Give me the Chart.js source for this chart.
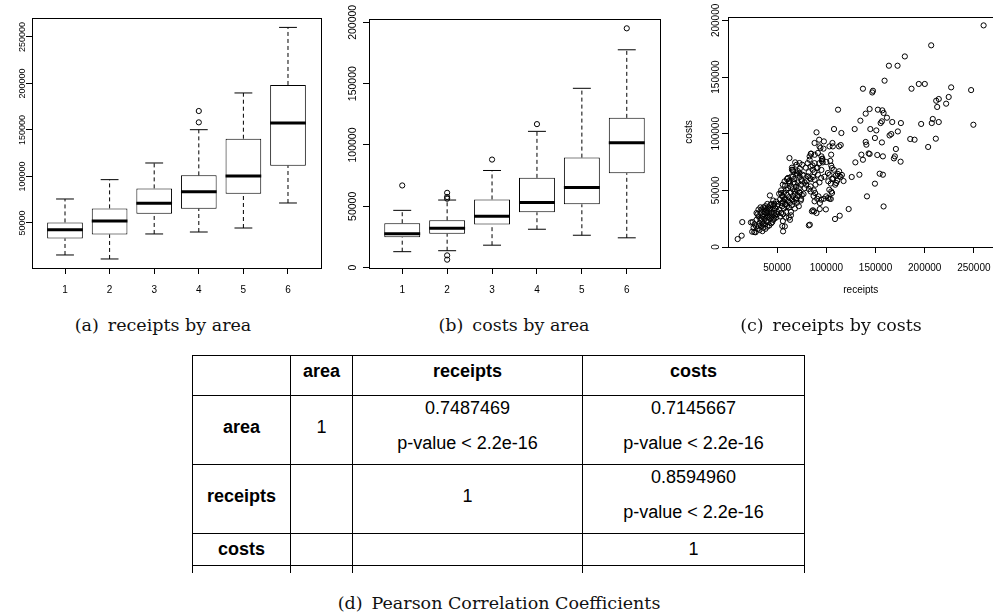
<!DOCTYPE html>
<html>
<head>
<meta charset="utf-8">
<script src="https://cdn.jsdelivr.net/npm/chart.js@4.4.1/dist/chart.umd.min.js"></script>
<style>
  html, body { margin: 0; padding: 0; background: #fff; overflow: hidden; }
  body { width: 993px; height: 615px; position: relative; }
  canvas { position: absolute; top: 0; }
  #boxReceipts { left: 0; }
  #boxCosts { left: 330px; }
  #scatter { left: 660px; }
  .cap {
    position: absolute; top: 315px; line-height: 20px;
    font-family: 'DejaVu Serif', serif; font-size: 17.5px; color: #111;
    white-space: nowrap; transform: translateX(-50%);
  }
  .cap .lbl { margin-right: 9px; }
  #corr {
    position: absolute; left: 192px; top: 355px;
    border-collapse: collapse; table-layout: fixed;
    font-family: 'Liberation Sans', Arial, sans-serif; font-size: 18px; color: #000;
  }
  #corr th, #corr td { border: 1px solid #000; padding: 0; text-align: center; vertical-align: top; }
  #corr .c { line-height: 24px; }
  #corr tr.hdr { height: 40px; }
  #corr tr.hdr .c { padding-top: 3px; }
  #corr tr.two { height: 69px; }
  #corr tr.two .single { padding-top: 19px; }
  #corr tr.two .l2 { margin-top: 11px; }
  #corr tr.one { height: 32px; }
  #corr tr.one .c { padding-top: 3px; }
  #corr tr.stub { height: 7px; }
  #corr tr.stub td { border-bottom: none; }
</style>
</head>
<body>
<canvas id="boxReceipts" width="330" height="300"></canvas>
<canvas id="boxCosts" width="340" height="300"></canvas>
<canvas id="scatter" width="340" height="300"></canvas>

<div class="cap" style="left:163px"><span class="lbl">(a)</span>receipts by area</div>
<div class="cap" style="left:514px"><span class="lbl">(b)</span>costs by area</div>
<div class="cap" style="left:831px"><span class="lbl">(c)</span>receipts by costs</div>

<table id="corr">
  <colgroup><col style="width:98px"><col style="width:62px"><col style="width:230px"><col style="width:222px"></colgroup>
  <tbody></tbody>
</table>
<div class="cap" style="left:499px; top:593px"><span class="lbl">(d)</span>Pearson Correlation Coefficients</div>

<script>
Chart.defaults.font.family = "'Liberation Sans', Arial, sans-serif";
Chart.defaults.color = '#000';

const AREAS = [1, 2, 3, 4, 5, 6];

// (a) receipts by area
const RECEIPTS_LOW  = [15600, 11300, 38200, 40300, 44600, 71500];
const RECEIPTS_Q1   = [33400, 37700, 60000, 65400, 81500, 111600];
const RECEIPTS_MED  = [42800, 52200, 71100, 83700, 100500, 157500];
const RECEIPTS_Q3   = [50600, 65700, 87200, 101200, 140600, 198400];
const RECEIPTS_HIGH = [75800, 96600, 114500, 150300, 189800, 260300];
const RECEIPTS_OUT_AREA  = [4, 4];
const RECEIPTS_OUT_VALUE = [158200, 170400];
const RECEIPTS_TICKS = [50000, 100000, 150000, 200000, 250000];

// (b) costs by area
const COSTS_LOW  = [13000, 13800, 18300, 31300, 26400, 24300];
const COSTS_Q1   = [24800, 27600, 35100, 45100, 51600, 77000];
const COSTS_MED  = [27600, 32100, 41900, 53200, 65400, 101900];
const COSTS_Q3   = [36200, 38600, 55600, 73200, 89700, 122100];
const COSTS_HIGH = [46700, 55100, 79200, 111100, 146200, 177600];
const COSTS_OUT_AREA  = [1, 2, 2, 2, 2, 2, 3, 4, 6];
const COSTS_OUT_VALUE = [67000, 61000, 57600, 56200, 10000, 6500, 88100, 117000, 195100];
const COSTS_TICKS = [0, 50000, 100000, 150000, 200000];

// (c) receipts vs costs, [receipts, costs]
const SCATTER_POINTS = [
  [259900,195600],[206600,178000],[179800,168200],[163600,160000],[172400,160000],[159200,146800],
  [137200,139700],[147400,137900],[146700,136400],[186600,139700],[194000,143900],[200100,143900],
  [226900,140900],[247200,138500],[224400,132400],[221800,126500],[214300,130600],[211700,129100],
  [212700,123600],[207200,109400],[208200,113000],[214300,110300],[196400,108600],[249500,107900],
  [211300,95600],[203500,88300],[185300,95300],[189700,94700],[111900,121200],[140000,117700],
  [144000,121800],[152400,121200],[156900,120600],[158200,118300],[161600,114100],[155200,109400],
  [156500,110900],[167000,110300],[175800,109400],[134600,111500],[128800,104100],[107800,104100],
  [115300,100600],[144700,104100],[150800,102900],[149400,96200],[156500,92300],[140000,92700],
  [140700,90300],[112900,88800],[114600,90000],[106200,91800],[135600,81500],[137200,77000],
  [143000,82600],[144000,82100],[151800,81200],[157500,80000],[170700,86500],[169700,80000],
  [168700,78200],[175500,75300],[129500,74700],[125800,61800],[133600,63800],[154200,64700],
  [157500,63800],[149400,55900],[141300,44700],[158200,35800],[122700,33500],[113600,27600],
  [108800,24700],[164300,98500],[166000,99700],[172700,102000],
  [90000,101200],[88000,91800],[92700,94700],[97500,93200],[93000,88800],[94000,87400],
  [91400,83000],[97100,86800],[104900,81500],[103200,88800],[106600,88800],[84600,82400],
  [83000,77000],[95000,80000],[95700,77500],[96300,74700],[95500,76000],[88000,74000],
  [84000,71000],[86300,68200],[90000,69700],[105000,71800],[105600,69700],[107600,68200],
  [101600,65300],[103200,63800],[111700,64500],[113400,62600],[114500,61800],[115800,63600],
  [109000,55000],[110000,56500],[105000,49000],[103000,50600],[99800,44700],[103200,42600],
  [97500,42600],[99500,33200],[94700,41800],[93400,38800],[88000,40300],[85300,31500],
  [86300,32400],[82200,19100],[90700,42600],[92000,44700],[87300,50000],[88600,47600],
  [82200,51200],[83900,53500],[77800,57000],[79500,55000],[81200,62400],[82900,60900],
  [86300,61800],[88000,59400],[91400,63800],[94700,60900],[93000,57000],[72700,65300],
  [75800,63800],[74600,59400],[67600,49000],[69300,41800],[72700,48200],[74400,42400],
  [76800,46800],[64200,53200],[61500,57900],[59200,50600],[68300,74700],[72700,74100],
  [62500,78500],[65000,68200],[66400,66800],[57500,57900],[55700,55000],[54000,47600],
  [55700,44700],[57500,41800],[54700,38800],[59100,37400],[42600,45500],[84200,82300],
  [88200,81400],[83200,19700],[87500,31400],[90000,30000],[101700,43200],[104500,42400],
  [105800,47700],[93300,33500],[66000,68000],[69700,72600],[75400,72600],[61000,61000],
  [64600,62300],[70700,63800],[57800,18200],[56000,13800],[55200,18500],[55800,22900],
  [9800,7000],[13900,10000],[14500,22000],[23300,21700],[26700,13200],[24600,13500],
  [28600,18200],[107000,60500],[109500,63000],[111000,58500],[104500,56000],[117500,58200],
  [113000,66800],
  [28000,13000],[30000,16000],[31000,18500],[32000,21000],[33000,24000],[34000,19000],
  [35000,27000],[35000,22000],[36000,29000],[36000,17000],[37000,25000],[37000,31000],
  [38000,20000],[38000,28000],[39000,23000],[39000,33000],[40000,26000],[40000,30000],
  [40000,18000],[41000,35000],[41000,22000],[42000,28000],[42000,32000],[43000,25000],
  [43000,37000],[44000,30000],[44000,21000],[45000,33000],[45000,27000],[46000,36000],
  [46000,24000],[47000,30000],[47000,38000],[48000,28000],[48000,34000],[49000,26000],
  [49000,40000],[50000,31000],[50000,36000],[31000,27000],[33000,30000],[34000,33000],
  [29000,24000],[27000,20000],[30000,29000],[36000,35000],[38000,36000],[32000,15000],
  [26000,17000],[35000,14000],[38000,16000],[42000,19000],[44000,38000],[46000,41000],
  [50000,29000],[29000,30000],[33000,35000],[37000,34000],[40000,38000],[25000,22000],
  [39000,30000],[43000,34000],[41000,27000],[34000,25000],[36000,20000],[45000,22000],
  [47000,25000],[31000,33000],
  [51000,38000],[52000,33000],[53000,42000],[54000,30000],[55000,36000],[55000,45000],
  [56000,40000],[57000,34000],[57000,48000],[58000,38000],[58000,43000],[59000,31000],
  [60000,46000],[60000,36000],[61000,41000],[61000,52000],[62000,35000],[62000,44000],
  [63000,39000],[63000,56000],[64000,48000],[64000,28000],[65000,42000],[65000,37000],
  [66000,51000],[66000,45000],[67000,40000],[67000,60000],[68000,47000],[68000,34000],
  [69000,53000],[69000,43000],[70000,39000],[70000,50000],[71000,57000],[71000,45000],
  [72000,36000],[72000,52000],[73000,48000],[73000,62000],[74000,41000],[74000,55000],
  [75000,46000],[75000,58000],[62000,26000],[63000,24000],[64000,31000],[59000,26000],
  [56000,29000],[53000,27000],[58000,54000],[54000,50000],[60000,60000],[66000,62000],
  [70000,65000],[62000,58000],[52000,47000],[68000,56000],[65000,70000],[71000,67000],
  [73000,69000],[67000,57000],
  [78000,52000],[80000,58000],[82000,66000],[84000,60000],[86000,72000],[88000,66000],
  [89000,55000],[91000,70000],[93000,74000],[95000,68000],[96000,78000],[98000,62000],
  [100000,75000],[102000,58000],[104000,76000],[106000,60000],[84000,49000],[87000,45000],
  [77000,63000],[79000,70000],[81000,74000],[83000,80000],
];
const SCATTER_X_TICKS = [50000, 100000, 150000, 200000, 250000];
const SCATTER_Y_TICKS = [0, 50000, 100000, 150000, 200000];

// (d) correlation table
const CORR_VARS = ['area', 'receipts', 'costs'];
const CORR_VALUES = [
  ['1', '0.7487469', '0.7145667'],
  ['', '1', '0.8594960'],
  ['', '', '1'],
];
const CORR_PVALUES = [
  ['', 'p-value < 2.2e-16', 'p-value < 2.2e-16'],
  ['', '', 'p-value < 2.2e-16'],
  ['', '', ''],
];

// --- plugins: R style frame and vertical y labels ---

const frame = {
  id: 'frame',
  afterDraw(chart) {
    const { ctx, chartArea: a } = chart;
    ctx.save();
    ctx.strokeStyle = '#000';
    ctx.lineWidth = 1;
    ctx.strokeRect(Math.round(a.left) + 0.5, Math.round(a.top) + 0.5,
      Math.round(a.right - a.left), Math.round(a.bottom - a.top));
    ctx.restore();
  },
};

const yLabels = {
  id: 'yLabels',
  afterDraw(chart, args, opts) {
    const scale = chart.scales.y;
    const ctx = chart.ctx;
    const x = chart.chartArea.left - opts.offset;
    ctx.save();
    ctx.fillStyle = '#000';
    ctx.font = opts.size + "px 'Liberation Sans', Arial, sans-serif";
    ctx.textAlign = 'center';
    ctx.textBaseline = 'middle';
    scale.ticks.forEach(t => {
      ctx.save();
      ctx.translate(x, scale.getPixelForValue(t.value));
      ctx.rotate(-Math.PI / 2);
      ctx.fillText(String(t.value), 0, 0);
      ctx.restore();
    });
    ctx.restore();
  },
};

const tickGrid = { display: true, drawOnChartArea: false, drawTicks: true, tickLength: 6, color: '#000', lineWidth: 1 };

// --- Boxplot built from a floating bar + line segments ---

function renderBoxplot(canvasId, s, opts) {
  const whiskers = [], staples = [], medians = [];
  AREAS.forEach((a, i) => {
    whiskers.push({ x: a, y: s.q3[i] }, { x: a, y: s.high[i] }, { x: a, y: null });
    whiskers.push({ x: a, y: s.low[i] }, { x: a, y: s.q1[i] }, { x: a, y: null });
    staples.push({ x: a - 0.2, y: s.high[i] }, { x: a + 0.2, y: s.high[i] }, { x: a + 0.2, y: null });
    staples.push({ x: a - 0.2, y: s.low[i] }, { x: a + 0.2, y: s.low[i] }, { x: a + 0.2, y: null });
    medians.push({ x: a - 0.4, y: s.med[i] }, { x: a + 0.4, y: s.med[i] }, { x: a + 0.4, y: null });
  });
  const lineBase = { type: 'line', pointRadius: 0, borderColor: '#000', fill: false, tension: 0, spanGaps: false };

  return new Chart(document.getElementById(canvasId), {
    type: 'bar',
    data: {
      datasets: [
        {
          type: 'scatter',
          data: s.outArea.map((a, i) => ({ x: a, y: s.outValue[i] })),
          pointRadius: 2.6, borderColor: '#000', backgroundColor: 'rgba(0,0,0,0)', borderWidth: 1,
          order: 0,
        },
        { ...lineBase, data: medians, borderWidth: 3, borderCapStyle: 'butt', order: 1 },
        { ...lineBase, data: staples, borderWidth: 1, order: 2 },
        { ...lineBase, data: whiskers, borderWidth: 1, borderDash: [4, 3], order: 2 },
        {
          type: 'bar',
          data: AREAS.map((a, i) => ({ x: a, y: [s.q1[i], s.q3[i]] })),
          backgroundColor: '#fff', borderColor: '#000', borderWidth: 1, borderSkipped: false,
          categoryPercentage: 0.8, barPercentage: 1.0,
          order: 3,
        },
      ],
    },
    options: {
      responsive: false,
      animation: false,
      devicePixelRatio: 1,
      layout: { padding: opts.padding },
      plugins: {
        legend: { display: false },
        tooltip: { enabled: false },
        yLabels: { offset: opts.labelOffset, size: opts.labelSize },
      },
      scales: {
        x: {
          type: 'linear', min: 0.26, max: 6.74, offset: false,
          grid: { ...tickGrid, offset: false },
          border: { display: false },
          ticks: { font: { size: 10 }, padding: 10, maxRotation: 0, autoSkip: false, callback: v => String(v) },
          afterBuildTicks: sc => { sc.ticks = AREAS.map(v => ({ value: v })); },
          afterFit: sc => { sc.height = opts.xHeight; },
        },
        y: {
          type: 'linear', min: opts.yMin, max: opts.yMax,
          grid: tickGrid,
          border: { display: false },
          ticks: { display: false },
          afterBuildTicks: sc => { sc.ticks = opts.yTicks.map(v => ({ value: v })); },
          afterFit: sc => { sc.width = opts.yWidth; },
        },
      },
    },
    plugins: [frame, yLabels],
  });
}

renderBoxplot('boxReceipts', {
  low: RECEIPTS_LOW, q1: RECEIPTS_Q1, med: RECEIPTS_MED, q3: RECEIPTS_Q3, high: RECEIPTS_HIGH,
  outArea: RECEIPTS_OUT_AREA, outValue: RECEIPTS_OUT_VALUE,
}, {
  padding: { top: 18, right: 9, bottom: 0, left: 0 },
  yWidth: 32, xHeight: 32, yMin: 1600, yMax: 270400, yTicks: RECEIPTS_TICKS,
  labelOffset: 9.5, labelSize: 9,
});

renderBoxplot('boxCosts', {
  low: COSTS_LOW, q1: COSTS_Q1, med: COSTS_MED, q3: COSTS_Q3, high: COSTS_HIGH,
  outArea: COSTS_OUT_AREA, outValue: COSTS_OUT_VALUE,
}, {
  padding: { top: 19, right: 10, bottom: 0, left: 0 },
  yWidth: 39, xHeight: 32, yMin: -300, yMax: 202700, yTicks: COSTS_TICKS,
  labelOffset: 16.3, labelSize: 10.5,
});

// --- Scatter: receipts by costs ---

new Chart(document.getElementById('scatter'), {
  type: 'scatter',
  data: {
    datasets: [{
      data: SCATTER_POINTS.map(p => ({ x: p[0], y: p[1] })),
      pointRadius: 2.6, borderColor: '#000', backgroundColor: 'rgba(0,0,0,0)', borderWidth: 1,
    }],
  },
  options: {
    responsive: false,
    animation: false,
    devicePixelRatio: 1,
    layout: { padding: { top: 17, right: 6, bottom: 0, left: 0 } },
    plugins: {
      legend: { display: false },
      tooltip: { enabled: false },
      yLabels: { offset: 11.3, size: 10 },
    },
    scales: {
      x: {
        type: 'linear', min: 0, max: 270000,
        grid: tickGrid,
        border: { display: false },
        ticks: { font: { size: 10 }, padding: 9, maxRotation: 0, autoSkip: false, callback: v => String(v) },
        title: { display: true, text: 'receipts', font: { size: 10 }, padding: { top: 0, bottom: 3.5 } },
        afterBuildTicks: sc => { sc.ticks = SCATTER_X_TICKS.map(v => ({ value: v })); },
        afterFit: sc => { sc.height = 53; },
      },
      y: {
        type: 'linear', min: 0, max: 203000,
        grid: tickGrid,
        border: { display: false },
        ticks: { display: false },
        title: { display: true, text: 'costs', font: { size: 10 }, padding: { top: 23, bottom: 0 } },
        afterBuildTicks: sc => { sc.ticks = SCATTER_Y_TICKS.map(v => ({ value: v })); },
        afterFit: sc => { sc.width = 68; },
      },
    },
  },
  plugins: [frame, yLabels],
});

// --- Table (d) ---

const tbody = document.querySelector('#corr tbody');
let html = '<tr class="hdr"><th></th>' + CORR_VARS.map(v => `<th><div class="c">${v}</div></th>`).join('') + '</tr>';
CORR_VARS.forEach((rowVar, r) => {
  const two = CORR_PVALUES[r].some(p => p);
  html += `<tr class="${two ? 'two' : 'one'}"><th><div class="c single">${rowVar}</div></th>`;
  CORR_VALUES[r].forEach((val, c) => {
    const p = CORR_PVALUES[r][c];
    if (p) {
      html += `<td><div class="c">${val}</div><div class="c l2">${p.replace('<', '&lt;')}</div></td>`;
    } else {
      html += `<td><div class="c single">${val}</div></td>`;
    }
  });
  html += '</tr>';
});
html += '<tr class="stub"><td></td><td></td><td></td><td></td></tr>';
tbody.innerHTML = html;
</script>
</body>
</html>
